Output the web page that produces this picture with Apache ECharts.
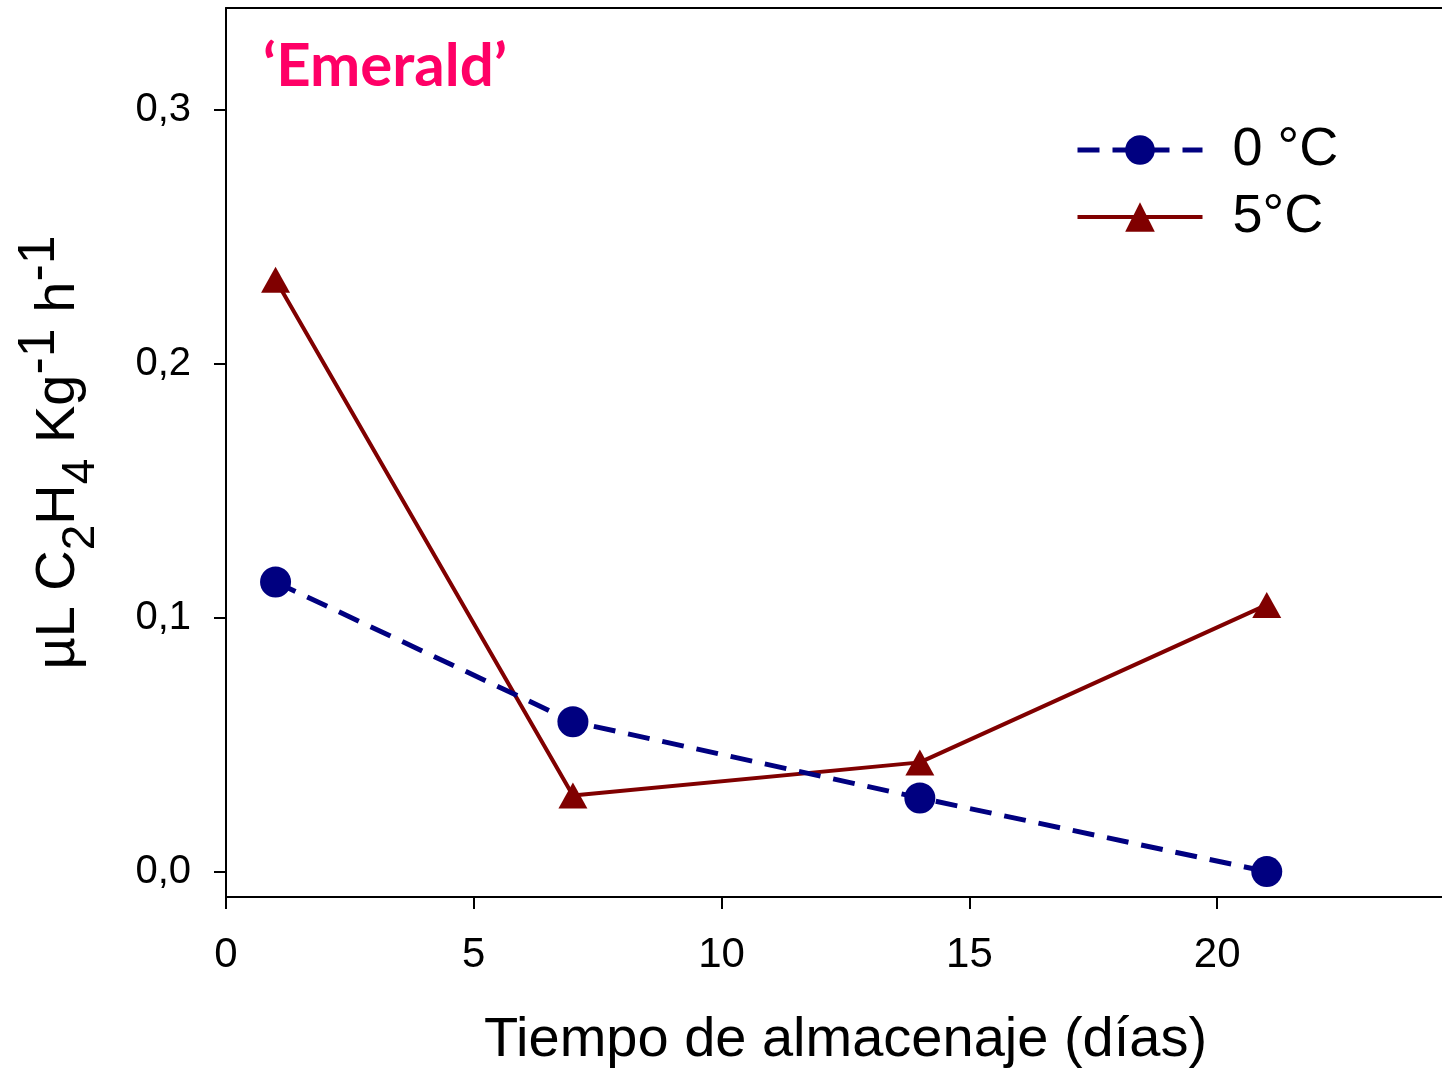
<!DOCTYPE html>
<html>
<head>
<meta charset="utf-8">
<title>Emerald – etileno</title>
<script src="https://cdn.jsdelivr.net/npm/echarts@6/dist/echarts.min.js"></script>
<style>
  html, body { margin: 0; padding: 0; background: #ffffff; }
  #chart { width: 1442px; height: 1068px; }
</style>
</head>
<body>
<div id="chart"></div>
<script>
// Storage days and ethylene production (µL C2H4 kg-1 h-1)
const days = [1, 7, 14, 21];
const temp0 = [0.114, 0.059, 0.029, 0.0];
const temp5 = [0.233, 0.030, 0.043, 0.105];
const seriesNames = ['0 °C', '5°C'];
const xTicks = [0, 5, 10, 15, 20];
const yTicks = [0, 0.1, 0.2, 0.3];

const FONT = '"Liberation Sans", Arial, Helvetica, sans-serif';
const NAVY = '#000080';
const MAROON = '#800000';
const DASH = [22, 13];

const chart = echarts.init(document.getElementById('chart'), null, { renderer: 'canvas' });

const pair = (xs, ys) => xs.map((x, i) => [x, ys[i]]);

chart.setOption({
  animation: false,
  backgroundColor: '#ffffff',
  title: {
    text: '\u2018Emerald\u2019',
    left: 263,
    top: 37,
    padding: 0,
    textStyle: {
      fontFamily: 'Lato, "Open Sans", sans-serif',
      fontWeight: 'bold',
      fontSize: 60,
      color: '#ff0066'
    }
  },
  legend: {
    orient: 'vertical',
    left: 1075,
    top: 123,
    padding: 0,
    itemWidth: 125,
    itemHeight: 37,
    itemGap: 13,
    data: [
      { name: seriesNames[0], lineStyle: { width: 5, type: DASH, color: NAVY } },
      { name: seriesNames[1], lineStyle: { width: 4, type: 'solid', color: MAROON } }
    ],
    textStyle: {
      fontFamily: FONT,
      fontSize: 54,
      lineHeight: 54,
      color: '#000000',
      padding: [0, 0, 0, 25]
    }
  },
  grid: {
    left: 226,
    top: 8,
    width: 1239,
    height: 889,
    containLabel: false,
    outerBoundsMode: 'none'
  },
  xAxis: [
    {
      type: 'value',
      min: 0,
      max: 25,
      interval: 5,
      name: 'Tiempo de almacenaje (días)',
      nameLocation: 'middle',
      nameGap: 116,
      nameTextStyle: { fontFamily: FONT, fontSize: 56, color: '#000000' },
      axisLine: { show: true, onZero: false, lineStyle: { color: '#000000', width: 2 } },
      axisTick: { show: true, inside: false, length: 12, customValues: xTicks, lineStyle: { color: '#000000', width: 2 } },
      axisLabel: { show: true, margin: 37, customValues: xTicks, fontFamily: FONT, fontSize: 42, color: '#000000' },
      splitLine: { show: false }
    },
    {
      type: 'value',
      position: 'top',
      min: 0,
      max: 25,
      axisLine: { show: true, onZero: false, lineStyle: { color: '#000000', width: 2 } },
      axisTick: { show: false },
      axisLabel: { show: false },
      splitLine: { show: false }
    }
  ],
  yAxis: {
    type: 'value',
    min: -0.01,
    max: 0.34,
    name: '{t|µL C}{sub|2}{t|H}{sub|4}{t| Kg}{sup|-1}{t| h}{sup|-1}',
    nameLocation: 'middle',
    nameGap: 122,
    nameTextStyle: {
      fontFamily: FONT,
      color: '#000000',
      rich: {
        t: { fontFamily: FONT, fontSize: 56, lineHeight: 90, color: '#000000', verticalAlign: 'middle' },
        sub: { fontFamily: FONT, fontSize: 46, lineHeight: 55, color: '#000000', verticalAlign: 'bottom' },
        sup: { fontFamily: FONT, fontSize: 52, lineHeight: 51, color: '#000000', verticalAlign: 'top' }
      }
    },
    axisLine: { show: true, onZero: false, lineStyle: { color: '#000000', width: 2 } },
    axisTick: { show: true, inside: false, length: 12, customValues: yTicks, lineStyle: { color: '#000000', width: 2 } },
    axisLabel: {
      show: true,
      margin: 35,
      customValues: yTicks,
      fontFamily: FONT,
      fontSize: 40,
      color: '#000000',
      formatter: v => v.toFixed(1).replace('.', ',')
    },
    splitLine: { show: false }
  },
  series: [
    {
      name: seriesNames[0],
      type: 'line',
      data: pair(days, temp0),
      symbol: 'circle',
      symbolSize: 31,
      itemStyle: { color: NAVY },
      lineStyle: { color: NAVY, width: 5, type: DASH },
      z: 3
    },
    {
      name: seriesNames[1],
      type: 'line',
      data: pair(days, temp5),
      symbol: 'triangle',
      symbolSize: [29, 26],
      itemStyle: { color: MAROON },
      lineStyle: { color: MAROON, width: 4, type: 'solid' },
      z: 2
    }
  ]
});
</script>
</body>
</html>
